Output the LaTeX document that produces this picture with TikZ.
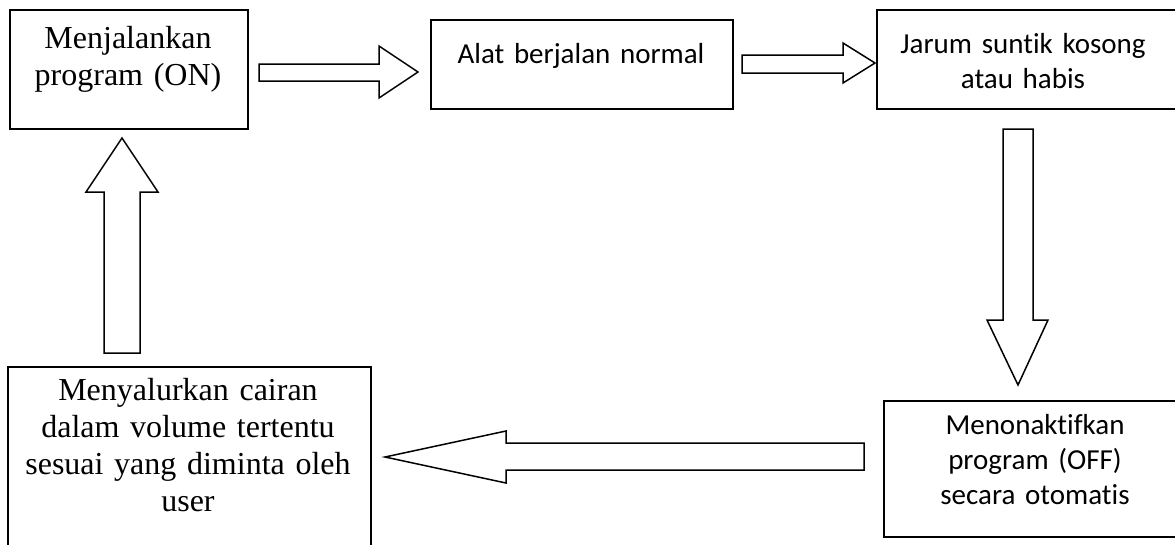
\documentclass[tikz,border=0pt]{standalone}
\usepackage{fontspec}
\setmainfont{Liberation Serif}
\newfontfamily\calfont[Ligatures=NoCommon]{Carlito}
\begin{document}
\begin{tikzpicture}[x=1pt,y=-1pt,
  box/.style={draw, line width=2pt, inner sep=0pt, fill=none},
  blockarrow/.style={draw, line width=1.5pt, fill=white, line join=miter},
  sertext/.style={font=\fontsize{32}{37}\selectfont, align=center, anchor=base, inner sep=0pt},
  caltext/.style={font=\calfont\fontsize{29}{35}\selectfont, align=center, anchor=base, inner sep=0pt}]
\useasboundingbox (0,0) rectangle (1175,544);
\clip (0,0) rectangle (1175,544);
\fill[white] (0,0) rectangle (1175,544);

% boxes
\node[box, minimum width=238pt, minimum height=119pt, anchor=north west] (b1) at (9,9) {};
\node[box, minimum width=302pt, minimum height=89pt, anchor=north west] (b2) at (430,19) {};
\node[box, minimum width=310pt, minimum height=99pt, anchor=north west] (b3) at (876,9) {};
\node[box, minimum width=300pt, minimum height=136pt, anchor=north west] (b4) at (883,400) {};
\node[box, minimum width=363pt, minimum height=190pt, anchor=north west] (b5) at (7,366) {};

% texts
\node[sertext, text width=232pt] (t1) at (128,48) {Menjalankan\\program (ON)};
\node[caltext, text width=290pt] (t2) at (581,63) {Alat berjalan normal};
\node[caltext, text width=285pt] (t3) at (1023,53) {Jarum suntik kosong\\atau habis};
\node[caltext, text width=280pt] (t4) at (1035,434) {Menonaktifkan\\program (OFF)\\secara otomatis};
\node[sertext, text width=355pt] (t5) at (188,400) {Menyalurkan cairan\\dalam volume tertentu\\sesuai yang diminta oleh\\user};

% block arrows
\draw[blockarrow] (259,64) -- (379,64) -- (379,46) -- (418,72) -- (379,98) -- (379,81) -- (259,81) -- cycle;
\draw[blockarrow] (742,55) -- (843,55) -- (843,43) -- (875,63) -- (843,83) -- (843,73) -- (742,73) -- cycle;
\draw[blockarrow] (1003,129) -- (1033,129) -- (1033,320) -- (1048,320) -- (1018,385) -- (987,320) -- (1003,320) -- cycle;
\draw[blockarrow] (864,443) -- (506,443) -- (506,431) -- (385,457) -- (506,483) -- (506,470) -- (864,470) -- cycle;
\draw[blockarrow] (104,353) -- (104,192) -- (86,192) -- (122,138) -- (158,192) -- (140,192) -- (140,353) -- cycle;
\end{tikzpicture}
\end{document}
